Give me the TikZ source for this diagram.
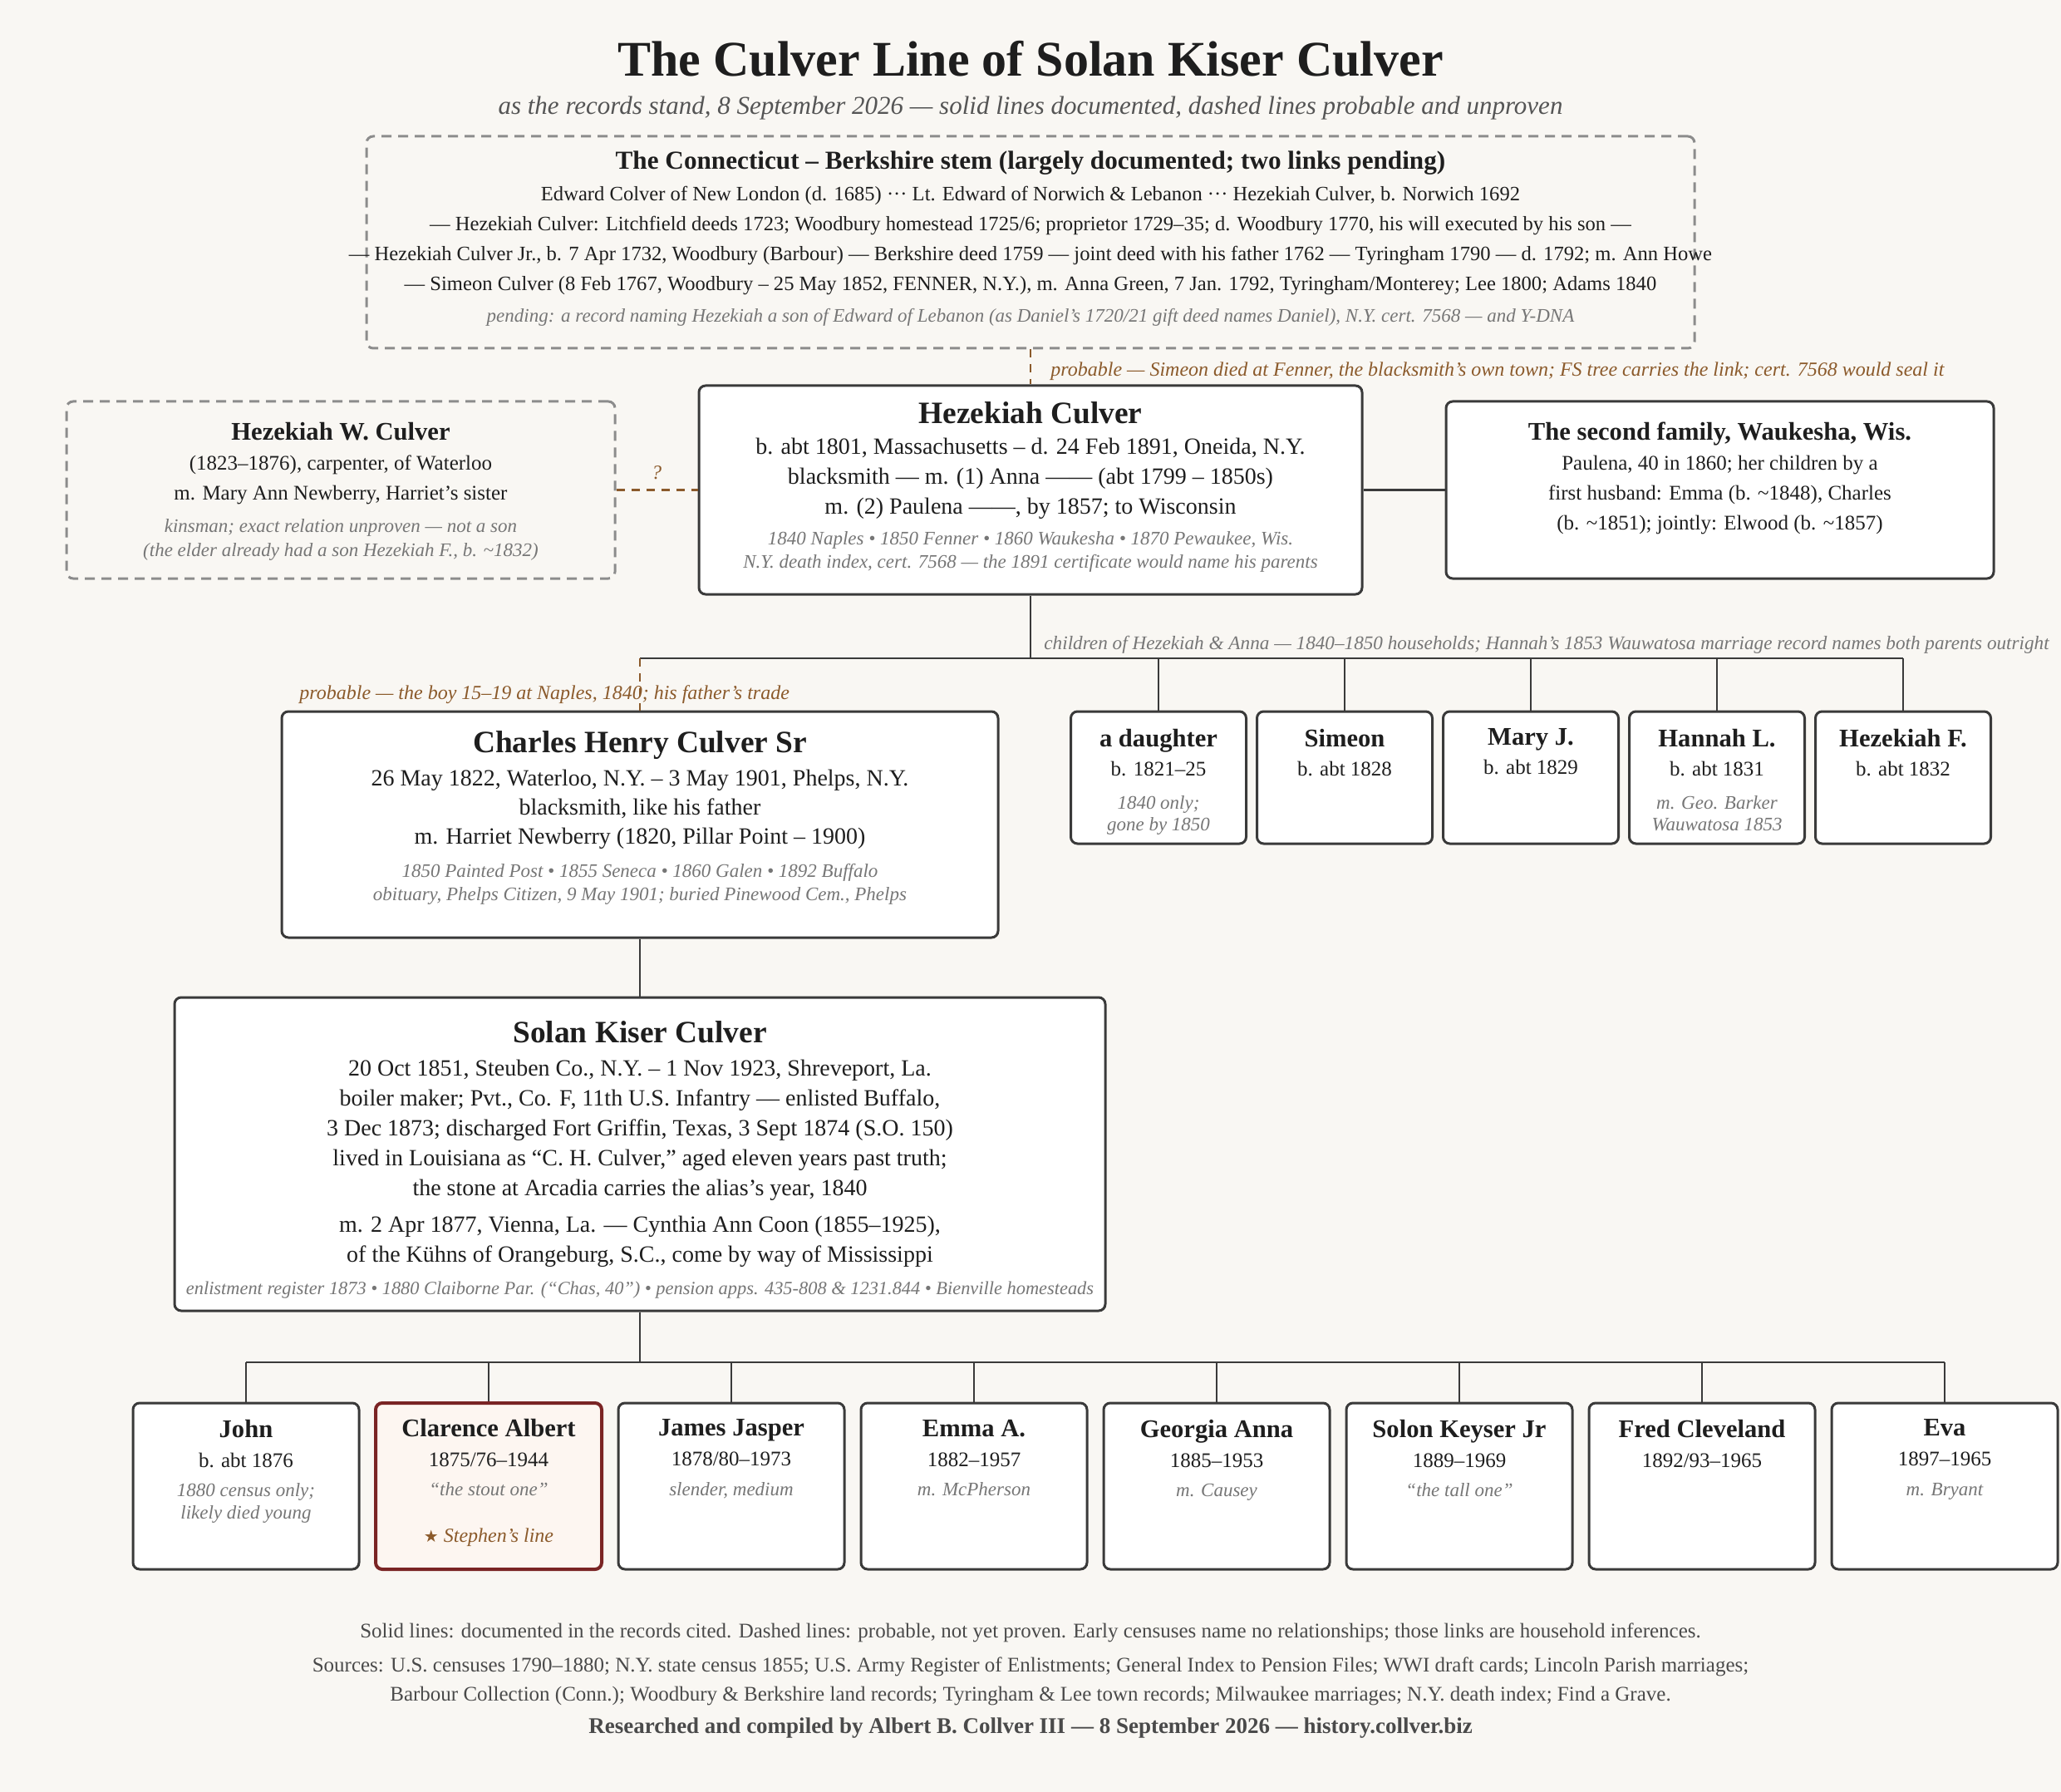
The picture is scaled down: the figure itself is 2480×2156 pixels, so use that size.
\documentclass[tikz,border=0pt]{standalone}
\usepackage{fontspec}
\setmainfont{Liberation Serif}
\newfontfamily\symfont{DejaVu Sans}
\usetikzlibrary{positioning}

\definecolor{paper}{HTML}{F9F7F3}
\definecolor{ink}{HTML}{1E1E1E}
\definecolor{boxline}{HTML}{3A3A3A}
\definecolor{dashgray}{HTML}{8C8C8C}
\definecolor{recgray}{HTML}{767676}
\definecolor{probbrown}{HTML}{8B5A2B}
\definecolor{footgray}{HTML}{4A4A4A}
\definecolor{subgray}{HTML}{555555}
\definecolor{stephen}{HTML}{7A2424}
\definecolor{stephenfill}{HTML}{FDF6F1}

\newcommand{\bigname}{\bfseries\fontsize{18.7pt}{18pt}\selectfont}
\newcommand{\pname}{\bfseries\fontsize{15.3pt}{18pt}\selectfont}
\newcommand{\recs}{\itshape\fontsize{11.5pt}{14pt}\selectfont\color{recgray}}
\newcommand{\bodyL}{\fontsize{14pt}{18pt}\selectfont}
\newcommand{\bodyS}{\fontsize{12.5pt}{18pt}\selectfont}

\tikzset{
  person/.style={draw=boxline, fill=white, line width=1.5pt, rounded corners=4pt, inner sep=0pt},
  maybe/.style={draw=dashgray, fill=paper, line width=1.5pt, dash pattern=on 6pt off 4pt, rounded corners=4pt, inner sep=0pt},
  txt/.style={align=center, inner sep=0pt, text=ink},
  link/.style={draw=boxline, line width=1.4pt},
  plink/.style={draw=probbrown, line width=1.4pt, dash pattern=on 5pt off 4pt},
  linklabel/.style={inner sep=0pt, font=\itshape\fontsize{12pt}{14pt}\selectfont},
  foot/.style={anchor=base, inner sep=0pt, text=footgray, font=\fontsize{12.5pt}{14pt}\selectfont},
}

\begin{document}
\begin{tikzpicture}[x=0.5pt, y=-0.5pt]
      \useasboundingbox (0,0) rectangle (2480,2156);
      \fill[paper] (0,0) rectangle (2480,2156);

      % heading
      \node[anchor=base, inner sep=0pt, text=ink, font=\bfseries\fontsize{30pt}{34pt}\selectfont] (title) at (1240,92) {The Culver Line of Solan Kiser Culver};
      \node[anchor=base, inner sep=0pt, text=subgray, font=\itshape\fontsize{15.5pt}{18pt}\selectfont] (subtitle) at (1240,138) {as the records stand, 8 September 2026 — solid lines documented, dashed lines probable and unproven};

      % boxes
      \node[maybe, minimum width=799pt, minimum height=127.5pt] (conn) at (1240,291.5) {};
      \node[maybe, minimum width=330pt, minimum height=106.5pt] (hw) at (410,589.5) {};
      \node[person, minimum width=399pt, minimum height=125.5pt] (hez) at (1240,589.5) {};
      \node[person, minimum width=329.5pt, minimum height=106.5pt] (second) at (2069.5,589.5) {};
      \node[person, minimum width=431pt, minimum height=136pt] (charles) at (770,992) {};
      \node[person, minimum width=560pt, minimum height=188.5pt] (solan) at (770,1388.5) {};

      \node[person, minimum width=105.5pt, minimum height=79.5pt] (dau) at (1394,935.5) {};
      \node[person, minimum width=105.5pt, minimum height=79.5pt] (sim) at (1618,935.5) {};
      \node[person, minimum width=105.5pt, minimum height=79.5pt] (mary) at (1842,935.5) {};
      \node[person, minimum width=105.5pt, minimum height=79.5pt] (hannah) at (2066,935.5) {};
      \node[person, minimum width=105.5pt, minimum height=79.5pt] (hezf) at (2290,935.5) {};

      \node[person, minimum width=136pt, minimum height=100pt] (john) at (296,1788) {};
      \node[person, draw=stephen, fill=stephenfill, line width=2pt, minimum width=136pt, minimum height=100pt] (clarence) at (588,1788) {};
      \node[person, minimum width=136pt, minimum height=100pt] (james) at (880,1788) {};
      \node[person, minimum width=136pt, minimum height=100pt] (emma) at (1172,1788) {};
      \node[person, minimum width=136pt, minimum height=100pt] (georgia) at (1464,1788) {};
      \node[person, minimum width=136pt, minimum height=100pt] (solon) at (1756,1788) {};
      \node[person, minimum width=136pt, minimum height=100pt] (fred) at (2048,1788) {};
      \node[person, minimum width=136pt, minimum height=100pt] (eva) at (2340,1788) {};

      % box texts
      \node[txt, font=\fontsize{12.3pt}{18pt}\selectfont, below=9.5pt of conn.north] (conn-t) {\bfseries\fontsize{15.6pt}{18pt}\selectfont The Connecticut – Berkshire stem (largely documented; two links pending)\\[0.85pt]
        Edward Colver of New London (d. 1685) ··· Lt. Edward of Norwich \& Lebanon ··· Hezekiah Culver, b. Norwich 1692\\
        — Hezekiah Culver: Litchfield deeds 1723; Woodbury homestead 1725/6; proprietor 1729–35; d. Woodbury 1770, his will executed by his son —\\
        — Hezekiah Culver Jr., b. 7 Apr 1732, Woodbury (Barbour) — Berkshire deed 1759 — joint deed with his father 1762 — Tyringham 1790 — d. 1792; m. Ann Howe\\
        — Simeon Culver (8 Feb 1767, Woodbury – 25 May 1852, FENNER, N.Y.), m. Anna Green, 7 Jan. 1792, Tyringham/Monterey; Lee 1800; Adams 1840\\[1.2pt]
        \recs pending: a record naming Hezekiah a son of Edward of Lebanon (as Daniel’s 1720/21 gift deed names Daniel), N.Y. cert. 7568 — and Y-DNA};

      \node[txt, font=\bodyS, below=13pt of hw.north] (hw-t) {\pname Hezekiah W. Culver\\
        (1823–1876), carpenter, of Waterloo\\
        m. Mary Ann Newberry, Harriet’s sister\\[1.65pt]
        \recs kinsman; exact relation unproven — not a son\\[-3.5pt]
        \recs (the elder already had a son Hezekiah F., b. \textasciitilde1832)};

      \node[txt, font=\bodyL, below=10.25pt of hez.north] (hez-t) {\bigname Hezekiah Culver\\[0.35pt]
        b. abt 1801, Massachusetts – d. 24 Feb 1891, Oneida, N.Y.\\
        blacksmith — m. (1) Anna —— (abt 1799 – 1850s)\\
        m. (2) Paulena ——, by 1857; to Wisconsin\\[0.6pt]
        \recs 1840 Naples • 1850 Fenner • 1860 Waukesha • 1870 Pewaukee, Wis.\\[-4pt]
        \recs N.Y. death index, cert. 7568 — the 1891 certificate would name his parents};

      \node[txt, font=\bodyS, below=13pt of second.north] (second-t) {\pname The second family, Waukesha, Wis.\\
        Paulena, 40 in 1860; her children by a\\
        first husband: Emma (b. \textasciitilde1848), Charles\\
        (b. \textasciitilde1851); jointly: Elwood (b. \textasciitilde1857)};

      \node[txt, font=\bodyL, below=12.25pt of charles.north] (charles-t) {\bigname Charles Henry Culver Sr\\[1.85pt]
        26 May 1822, Waterloo, N.Y. – 3 May 1901, Phelps, N.Y.\\[-0.25pt]
        blacksmith, like his father\\[-0.5pt]
        m. Harriet Newberry (1820, Pillar Point – 1900)\\[2.1pt]
        \recs 1850 Painted Post • 1855 Seneca • 1860 Galen • 1892 Buffalo\\[-4pt]
        \recs obituary, Phelps Citizen, 9 May 1901; buried Pinewood Cem., Phelps};

      \node[txt, font=\bodyL, below=14.75pt of solan.north] (solan-t) {\bigname Solan Kiser Culver\\[1.9pt]
        20 Oct 1851, Steuben Co., N.Y. – 1 Nov 1923, Shreveport, La.\\
        boiler maker; Pvt., Co. F, 11th U.S. Infantry — enlisted Buffalo,\\
        3 Dec 1873; discharged Fort Griffin, Texas, 3 Sept 1874 (S.O. 150)\\
        lived in Louisiana as “C. H. Culver,” aged eleven years past truth;\\
        the stone at Arcadia carries the alias’s year, 1840\\[4pt]
        m. 2 Apr 1877, Vienna, La. — Cynthia Ann Coon (1855–1925),\\
        of the Kühns of Orangeburg, S.C., come by way of Mississippi\\[1.6pt]
        \recs\fontsize{11.2pt}{14pt}\selectfont enlistment register 1873 • 1880 Claiborne Par. (“Chas, 40”) • pension apps. 435-808 \& 1231.844 • Bienville homesteads};

      \node[txt, font=\bodyS, below=11pt of dau.north] (dau-t) {\pname a daughter\\[-0.5pt] b. 1821–25\\[2.2pt] \recs 1840 only;\\[-5pt] \recs gone by 1850};
      \node[txt, font=\bodyS, below=11pt of sim.north] (sim-t) {\pname Simeon\\[-0.5pt] b. abt 1828};
      \node[txt, font=\bodyS, below=11pt of mary.north] (mary-t) {\pname Mary J.\\[-0.5pt] b. abt 1829};
      \node[txt, font=\bodyS, below=11pt of hannah.north] (hannah-t) {\pname Hannah L.\\[-0.5pt] b. abt 1831\\[2.2pt] \recs m. Geo. Barker\\[-5pt] \recs Wauwatosa 1853};
      \node[txt, font=\bodyS, below=11pt of hezf.north] (hezf-t) {\pname Hezekiah F.\\[-0.5pt] b. abt 1832};

      \node[txt, font=\bodyS, below=10.5pt of john.north] (john-t) {\pname John\\ b. abt 1876\\[-0.35pt] \recs 1880 census only;\\[-4.5pt] \recs likely died young};
      \node[txt, font=\bodyS, below=10.5pt of clarence.north] (clarence-t) {\pname Clarence Albert\\ 1875/76–1944\\[-0.35pt] \recs “the stout one”\\[10pt]
        \color{probbrown}\itshape\fontsize{12pt}{14pt}\selectfont{\symfont\upshape\fontsize{10pt}{12pt}\selectfont ★} Stephen’s line};
      \node[txt, font=\bodyS, below=10.5pt of james.north] (james-t) {\pname James Jasper\\ 1878/80–1973\\[-0.35pt] \recs slender, medium};
      \node[txt, font=\bodyS, below=10.5pt of emma.north] (emma-t) {\pname Emma A.\\ 1882–1957\\[-0.35pt] \recs m. McPherson};
      \node[txt, font=\bodyS, below=10.5pt of georgia.north] (georgia-t) {\pname Georgia Anna\\ 1885–1953\\[-0.35pt] \recs m. Causey};
      \node[txt, font=\bodyS, below=10.5pt of solon.north] (solon-t) {\pname Solon Keyser Jr\\ 1889–1969\\[-0.35pt] \recs “the tall one”};
      \node[txt, font=\bodyS, below=10.5pt of fred.north] (fred-t) {\pname Fred Cleveland\\ 1892/93–1965};
      \node[txt, font=\bodyS, below=10.5pt of eva.north] (eva-t) {\pname Eva\\ 1897–1965\\[-0.35pt] \recs m. Bryant};

      % connectors
      \coordinate (kbus) at (1240,792);
      \coordinate (sbus) at (770,1639);

      \draw [plink] (conn.south) -- (hez.north);
      \draw [plink] (hw.east) -- (hez.west);
      \draw [link] (hez.east) -- (second.west);

      \draw [link] (hez.south) -- (kbus);
      \draw [link] (charles.north |- kbus) -- (hezf.north |- kbus);
      \draw [plink] (charles.north |- kbus) -- (charles.north);
      \draw [link] (dau.north |- kbus) -- (dau.north);
      \draw [link] (sim.north |- kbus) -- (sim.north);
      \draw [link] (mary.north |- kbus) -- (mary.north);
      \draw [link] (hannah.north |- kbus) -- (hannah.north);
      \draw [link] (hezf.north |- kbus) -- (hezf.north);

      \draw [link] (charles.south) -- (solan.north);
      \draw [link] (solan.south) -- (sbus);
      \draw [link] (john.north |- sbus) -- (eva.north |- sbus);
      \draw [link] (john.north |- sbus) -- (john.north);
      \draw [link] (clarence.north |- sbus) -- (clarence.north);
      \draw [link] (james.north |- sbus) -- (james.north);
      \draw [link] (emma.north |- sbus) -- (emma.north);
      \draw [link] (georgia.north |- sbus) -- (georgia.north);
      \draw [link] (solon.north |- sbus) -- (solon.north);
      \draw [link] (fred.north |- sbus) -- (fred.north);
      \draw [link] (eva.north |- sbus) -- (eva.north);

      % connector labels
      \node[linklabel, text=probbrown, anchor=base west] (simeon-l) at (1264,453) {probable — Simeon died at Fenner, the blacksmith’s own town; FS tree carries the link; cert. 7568 would seal it};
      \node[linklabel, text=probbrown, anchor=base] (kin-l) at (790,576) {?};
      \node[linklabel, text=recgray, anchor=base west, font=\itshape\fontsize{11.6pt}{14pt}\selectfont] (kids-l) at (1256,781) {children of Hezekiah \& Anna — 1840–1850 households; Hannah’s 1853 Wauwatosa marriage record names both parents outright};
      \node[linklabel, text=probbrown, anchor=base west] (boy-l) at (360,841) {probable — the boy 15–19 at Naples, 1840; his father’s trade};

      % footer
      \node[foot] (foot1) at (1240,1970) {Solid lines: documented in the records cited. Dashed lines: probable, not yet proven. Early censuses name no relationships; those links are household inferences.};
      \node[foot] (foot2) at (1240,2011) {Sources: U.S. censuses 1790–1880; N.Y. state census 1855; U.S. Army Register of Enlistments; General Index to Pension Files; WWI draft cards; Lincoln Parish marriages;};
      \node[foot] (foot3) at (1240,2046) {Barbour Collection (Conn.); Woodbury \& Berkshire land records; Tyringham \& Lee town records; Milwaukee marriages; N.Y. death index; Find a Grave.};
      \node[foot, font=\bfseries\fontsize{13.5pt}{14pt}\selectfont] (foot4) at (1240,2085) {Researched and compiled by Albert B. Collver III — 8 September 2026 — history.collver.biz};
    \end{tikzpicture}
\end{document}
